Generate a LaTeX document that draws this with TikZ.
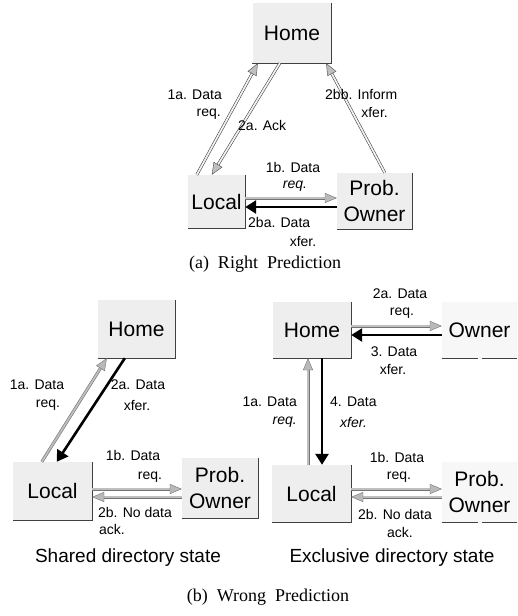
\documentclass[tikz,border=0pt]{standalone}
\usepackage{fontspec}
\setmainfont{Liberation Serif}
\setsansfont{Liberation Sans}
\usetikzlibrary{arrows.meta,calc}
\begin{document}
\begin{tikzpicture}[x=1pt,y=-1pt,
  every node/.style={inner sep=0pt, font=\sffamily\fontsize{14}{17}\selectfont},
  box/.style n args={2}{fill=gray!13, minimum width=#1, minimum height=#2,
    font=\sffamily\fontsize{21}{26}\selectfont, align=center},
  rim/.style={draw=black!75, line width=0.8pt},
  reqo/.style={draw=black!80, line width=0.5pt, double=gray!12, double distance=1.8pt,
    -{Triangle[length=12pt,width=10pt,fill=gray!50,color=black!70,line width=0.4pt]}},
  req/.style={draw=black!55, line width=0.6pt, double=gray!50, double distance=1.8pt,
    -{Triangle[length=12pt,width=10pt,fill=gray!55,color=black!55,line width=0.4pt]}},
  rsp/.style={draw=black, line width=2.6pt,
    -{Triangle[length=11pt,width=13pt]}},
  statetext/.style={font=\sffamily\fontsize{19}{22}\selectfont},
  titletext/.style={font=\rmfamily\fontsize{18}{22}\selectfont}
]
\useasboundingbox (0,0) rectangle (517,616);
\fill[white] (0,0) rectangle (517,616);

% ---------- (a) Right Prediction ----------
\node[box={79pt}{60pt}] (homeA) at (292,33) {Home};
\node[box={57pt}{53pt}] (localA) at (216.5,201.5) {Local};
\node[box={75pt}{56pt}] (probA) at (374.5,201) {Prob.\\Owner};
\foreach \n in {homeA,localA,probA}
  \draw[rim] (\n.north east) -- (\n.south east) -- (\n.south west);

\draw[reqo] ([xshift=9pt]localA.north west) -- ([xshift=5.5pt]homeA.south west);
\draw[reqo] ([xshift=27.5pt]homeA.south west) -- ([xshift=24pt]localA.north west);
\draw[reqo] ([xshift=48pt]probA.north west) -- ([xshift=-5.5pt]homeA.south east);
\draw[req] ([yshift=3.5pt]localA.east) -- ([yshift=3pt]probA.west);
\draw[rsp] ([yshift=-6pt]probA.west) -- ([yshift=-5.5pt]localA.east);

\node[anchor=east] (la1) at (222,95) {1a. Data};
\node[anchor=east] (la2) at (221,114) {req.};
\node[anchor=west] (la3) at (238,125) {2a. Ack};
\node[anchor=west] (la4) at (325,94) {2bb. Inform};
\node[anchor=east] (la5) at (388,113) {xfer.};
\node (la6) at (293,167) {1b. Data};
\node (la7) at (295,186) {\itshape req.};
\node[anchor=west] (la8) at (248,222) {2ba. Data};
\node (la9) at (303,241) {xfer.};
\node[titletext] (capA) at (265,264) {(a)\ \ Right\ \ Prediction};

% ---------- (b) Wrong Prediction, shared directory state ----------
\node[box={77pt}{58pt}] (homeB) at (136.5,329) {Home};
\node[box={79pt}{58pt}] (localB) at (52.5,491) {Local};
\node[box={76pt}{60pt}] (probB) at (220,488) {Prob.\\Owner};
\foreach \n in {homeB,localB,probB}
  \draw[rim] (\n.north east) -- (\n.south east) -- (\n.south west);

\draw[req] ([xshift=29pt]localB.north west) -- ([xshift=9pt]homeB.south west);
\draw[rsp] ([xshift=27pt]homeB.south west) -- ([xshift=44pt]localB.north west);
\draw[req] ([yshift=2pt]localB.east) -- ([yshift=-1pt]probB.west);
\draw[req] ([yshift=-9pt]probB.west) -- ([yshift=-6pt]localB.east);

\node (lb1) at (37,385) {1a. Data};
\node (lb2) at (48,405) {req.};
\node (lb3) at (138,385) {2a. Data};
\node (lb4) at (137,405) {xfer.};
\node (lb5) at (133,455) {1b. Data};
\node (lb6) at (150,477) {req.};
\node (lb7) at (135,512) {2b. No data};
\node (lb8) at (112,529) {ack.};
\node[statetext] (capB1) at (128,558) {Shared directory state};

% ---------- (b) Wrong Prediction, exclusive directory state ----------
\node[box={78pt}{56pt}] (homeC) at (312,330) {Home};
\node[box={75pt}{56pt}, fill=gray!6] (ownerC) at (479.5,330) {Owner};
\node[box={79pt}{57pt}] (localC) at (311.5,493.5) {Local};
\node[box={75pt}{60pt}, fill=gray!6] (probC) at (479.5,492) {Prob.\\Owner};
\foreach \n in {homeC,localC}
  \draw[rim] (\n.north east) -- (\n.south east) -- (\n.south west);
\foreach \n in {ownerC,probC}
  \draw[rim, dash pattern=on 36pt off 4pt on 40pt] (\n.south west) -- (\n.south east);

\draw[req] ([yshift=4pt]homeC.east) -- ([yshift=4pt]ownerC.west);
\draw[rsp] ([yshift=-5pt]ownerC.west) -- ([yshift=-5pt]homeC.east);
\draw[req] ([xshift=-3.5pt]localC.north) -- ([xshift=-4pt]homeC.south);
\draw[rsp] ([xshift=10pt]homeC.south) -- ([xshift=10.5pt]localC.north);
\draw[req] ([yshift=4.5pt]localC.east) -- ([yshift=3pt]probC.west);
\draw[req] ([yshift=-5pt]probC.west) -- ([yshift=-3.5pt]localC.east);

\node (lc1) at (400,294) {2a. Data};
\node (lc2) at (402,313) {req.};
\node (lc3) at (394,352) {3. Data};
\node (lc4) at (393,369) {xfer.};
\node[anchor=east] (lc5) at (297,402) {1a. Data};
\node[anchor=east] (lc6) at (297,422) {\itshape req.};
\node[anchor=west] (lc7) at (330,402) {4. Data};
\node[anchor=west] (lc8) at (340,422) {\itshape xfer.};
\node (lc9) at (397,457) {1b. Data};
\node (lc10) at (399,477) {req.};
\node (lc11) at (395,514) {2b. No data};
\node (lc12) at (400,532) {ack.};
\node[statetext] (capB2) at (392,558) {Exclusive directory state};

\node[titletext] (capB) at (268,597) {(b)\ \ Wrong\ \ Prediction};
\end{tikzpicture}
\end{document}
